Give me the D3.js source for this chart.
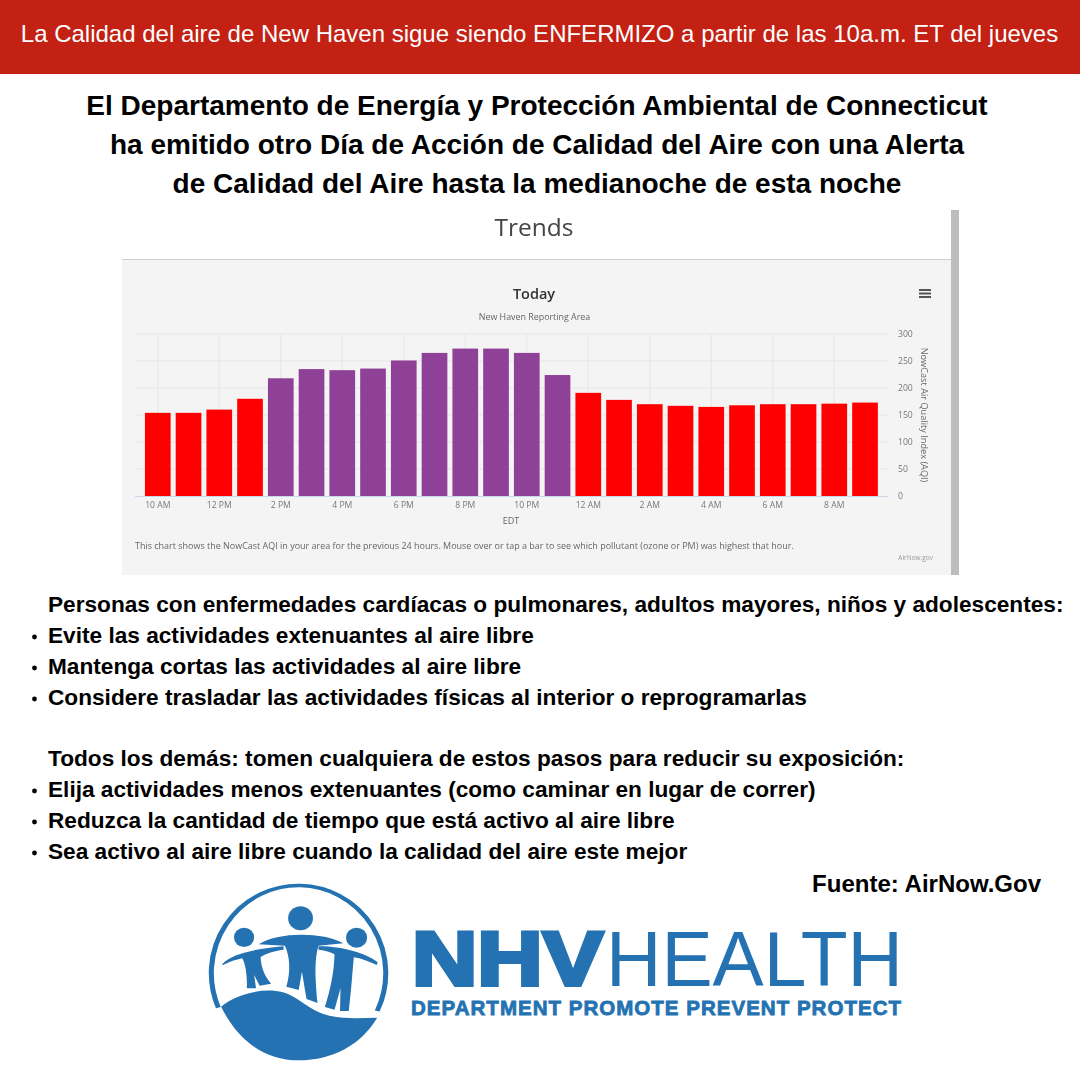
<!DOCTYPE html>
<html><head><meta charset="utf-8">
<script src="https://cdn.jsdelivr.net/npm/d3@7"></script>
<style>
html,body{margin:0;padding:0;background:#fff}
svg{display:block}
text{font-family:"Liberation Sans",Arial,sans-serif}
.c text,text.c{font-family:"Open Sans",sans-serif}
</style></head><body>
<svg id="s" width="1080" height="1080"></svg>
<script>
const hours=["10 AM","11 AM","12 PM","1 PM","2 PM","3 PM","4 PM","5 PM","6 PM","7 PM","8 PM","9 PM","10 PM","11 PM","12 AM","1 AM","2 AM","3 AM","4 AM","5 AM","6 AM","7 AM","8 AM","9 AM"];
const aqi=[154,154,160,180,218,235,233,236,251,265,273,273,265,224,191,178,170,167,165,168,170,170,171,173];
const tickLabels=["10 AM","12 PM","2 PM","4 PM","6 PM","8 PM","10 PM","12 AM","2 AM","4 AM","6 AM","8 AM"];
const yTicks=[0,50,100,150,200,250,300];
const titleLines=["El Departamento de Energía y Protección Ambiental de Connecticut","ha emitido otro Día de Acción de Calidad del Aire con una Alerta","de Calidad del Aire hasta la medianoche de esta noche"];
const adviceLines=[
 {t:"Personas con enfermedades cardíacas o pulmonares, adultos mayores, niños y adolescentes:",b:false,y:612},
 {t:"Evite las actividades extenuantes al aire libre",b:true,y:643},
 {t:"Mantenga cortas las actividades al aire libre",b:true,y:674},
 {t:"Considere trasladar las actividades físicas al interior o reprogramarlas",b:true,y:705},
 {t:"Todos los demás: tomen cualquiera de estos pasos para reducir su exposición:",b:false,y:766},
 {t:"Elija actividades menos extenuantes (como caminar en lugar de correr)",b:true,y:797},
 {t:"Reduzca la cantidad de tiempo que está activo al aire libre",b:true,y:828},
 {t:"Sea activo al aire libre cuando la calidad del aire este mejor",b:true,y:859}];

const svg=d3.select("#s");
const defs=svg.append("defs");
defs.append("filter").attr("id","soft").attr("x","-2%").attr("y","-2%").attr("width","104%").attr("height","104%")
 .append("feGaussianBlur").attr("stdDeviation",0.35);
svg.append("rect").attr("width",1080).attr("height",1080).attr("fill","#fff");
// banner
svg.append("rect").attr("width",1080).attr("height",74).attr("fill","#c32113");
svg.append("text").attr("x",539.5).attr("y",42).attr("text-anchor","middle").attr("fill","#fff").attr("font-size",24)
 .text("La Calidad del aire de New Haven sigue siendo ENFERMIZO a partir de las 10a.m. ET del jueves");
// headline
svg.selectAll("text.h").data(titleLines).join("text").attr("class","h")
 .attr("x",537).attr("y",(d,i)=>115+i*39).attr("text-anchor","middle").attr("font-weight",700).attr("font-size",28).attr("fill","#000").text(d=>d);

// screenshot panel
const shot=svg.append("g").attr("filter","url(#soft)");
shot.append("rect").attr("x",122).attr("y",260).attr("width",829).attr("height",315).attr("fill","#f4f4f4");
shot.append("line").attr("x1",122).attr("x2",951).attr("y1",259.5).attr("y2",259.5).attr("stroke","#cfcfcf").attr("stroke-width",1);
shot.append("rect").attr("x",951).attr("y",210).attr("width",8).attr("height",365).attr("fill","#bdbdbd");
shot.append("text").attr("class","c").attr("x",534).attr("y",236).attr("text-anchor","middle").attr("font-size",24.5).attr("fill","#444").text("Trends");
shot.append("text").attr("class","c").attr("x",534).attr("y",298.5).attr("text-anchor","middle").attr("font-size",14.5).attr("font-weight",600).attr("fill","#333").text("Today");
shot.append("text").attr("class","c").attr("x",534.5).attr("y",320).attr("text-anchor","middle").attr("font-size",8.9).attr("fill","#666").text("New Haven Reporting Area");
// menu icon
shot.append("g").selectAll("rect").data([0,1,2]).join("rect").attr("x",919).attr("y",d=>289+d*3.5).attr("width",12).attr("height",2).attr("fill","#555");

const x=d3.scaleBand().domain(hours).range([142.4,880.4]).paddingInner(0.165).paddingOuter(0.0825);
const y=d3.scaleLinear().domain([0,300]).range([496,334]);
const plot=shot.append("g").attr("class","c");
// grid
plot.append("g").selectAll("line").data(yTicks.slice(1)).join("line")
 .attr("x1",135).attr("x2",888).attr("y1",d=>y(d)).attr("y2",d=>y(d)).attr("stroke","#e6e6e6");
plot.append("g").selectAll("line").data(tickLabels).join("line")
 .attr("x1",d=>x(d)+x.bandwidth()/2).attr("x2",d=>x(d)+x.bandwidth()/2).attr("y1",334).attr("y2",496).attr("stroke","#e6e6e6");
// bars
plot.append("g").selectAll("rect").data(hours).join("rect")
 .attr("x",d=>x(d)).attr("width",x.bandwidth())
 .attr("y",(d,i)=>y(aqi[i])).attr("height",(d,i)=>y(0)-y(aqi[i]))
 .attr("fill",(d,i)=>aqi[i]>200?"#8f3f97":"#ff0000");
// axes
const ax=d3.axisBottom(x).tickValues(tickLabels).tickSize(0).tickPadding(6);
const gx=plot.append("g").attr("transform","translate(0,496)").call(ax);
gx.select(".domain").remove();
plot.append("line").attr("x1",135).attr("x2",888).attr("y1",496.5).attr("y2",496.5).attr("stroke","#ccd6eb");
gx.selectAll("text").attr("font-size",8.6).attr("fill","#777").attr("font-family",'"Open Sans",sans-serif');
const ay=d3.axisRight(y).tickValues(yTicks).tickSize(0).tickPadding(0);
const gy=plot.append("g").attr("transform","translate(898,0)").call(ay);
gy.select(".domain").remove();
gy.selectAll("text").attr("font-size",8.6).attr("fill","#777").attr("font-family",'"Open Sans",sans-serif');
plot.append("text").attr("x",511).attr("y",524).attr("text-anchor","middle").attr("font-size",9).attr("fill","#666").text("EDT");
plot.append("text").attr("transform","translate(921,415) rotate(90)").attr("text-anchor","middle").attr("font-size",9.2).attr("fill","#666").text("NowCast Air Quality Index (AQI)");
plot.append("text").attr("x",135).attr("y",549).attr("font-size",8.97).attr("fill","#666").text("This chart shows the NowCast AQI in your area for the previous 24 hours. Mouse over or tap a bar to see which pollutant (ozone or PM) was highest that hour.");
plot.append("text").attr("x",933).attr("y",560).attr("text-anchor","end").attr("font-size",6.5).attr("fill","#999").text("AirNow.gov");

// advice
svg.selectAll("text.a").data(adviceLines).join("text").attr("class","a")
 .attr("x",48).attr("y",d=>d.y).attr("font-weight",700).attr("font-size",22.65).attr("fill","#000").text(d=>d.t);
svg.selectAll("circle.b").data(adviceLines.filter(d=>d.b)).join("circle").attr("class","b")
 .attr("cx",34.5).attr("cy",d=>d.y-6).attr("r",2.4).attr("fill","#000");
svg.append("text").attr("x",1041).attr("y",892).attr("text-anchor","end").attr("font-weight",700).attr("font-size",24).attr("fill","#000").text("Fuente: AirNow.Gov");

// logo (drawn in the zoomed logo's coordinates)
const blue="#2472b2";
const lg=svg.append("g").attr("transform","translate(200,875) scale(0.4591,0.3333)").attr("fill",blue);
lg.append("path").attr("fill","none").attr("stroke",blue).attr("stroke-width",11)
 .attr("d","M40,398 A190,263 0 1 1 386,408");
lg.append("path").attr("d","M46,395 C75,360 125,342 165,348 C210,355 225,395 270,418 C305,433 345,430 386,428 C350,510 290,555 215,556 C135,555 80,490 46,395 Z");
lg.append("ellipse").attr("cx",219).attr("cy",130).attr("rx",27).attr("ry",36);
lg.append("ellipse").attr("cx",96).attr("cy",187).attr("rx",22).attr("ry",29);
lg.append("ellipse").attr("cx",341).attr("cy",188).attr("rx",23).attr("ry",30);
// centre figure
lg.append("path").attr("d","M128,208 C165,172 265,168 312,205 L258,212 C250,250 250,300 256,384 L232,372 L222,290 L215,345 L188,335 C198,290 196,245 185,212 Z");
// left figure
lg.append("path").attr("d","M48,268 C70,235 120,222 182,214 L182,224 C160,228 145,235 132,246 C133,280 142,305 155,326 L130,332 L118,300 L122,340 L102,340 C103,305 100,270 92,250 C78,254 65,260 50,270 Z");
// right figure
lg.append("path").attr("d","M258,214 C300,212 360,232 387,262 L385,270 C365,258 350,250 335,247 C332,290 330,340 324,408 L305,408 L306,340 L293,404 L272,396 C285,340 292,290 293,238 C282,230 270,225 258,224 Z");
// wordmark
const wm=svg.append("g").attr("fill",blue);
wm.append("text").attr("x",412).attr("y",984.5).attr("font-size",76).attr("font-weight",700).attr("stroke",blue).attr("stroke-width",4)
 .attr("textLength",191).attr("lengthAdjust","spacingAndGlyphs").text("NHV");
wm.append("text").attr("x",606).attr("y",985.5).attr("font-size",78).attr("textLength",297).attr("lengthAdjust","spacingAndGlyphs").text("HEALTH");
wm.append("text").attr("x",411).attr("y",1015).attr("font-size",20.5).attr("font-weight",700).attr("stroke",blue).attr("stroke-width",.8)
 .attr("textLength",490).attr("lengthAdjust","spacing").text("DEPARTMENT PROMOTE PREVENT PROTECT");
</script></body></html>
